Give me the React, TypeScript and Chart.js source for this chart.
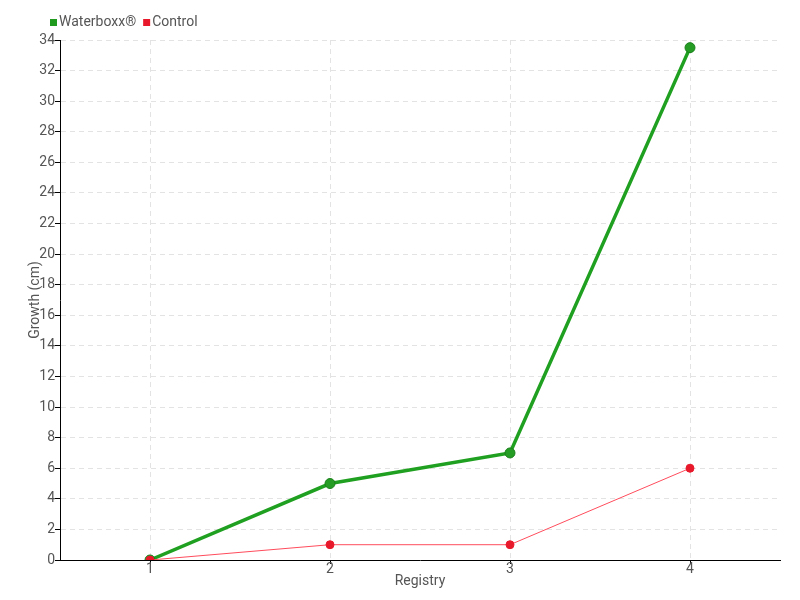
import React, { useEffect, useRef } from "react";
import { Chart, registerables } from "chart.js";

Chart.register(...registerables);

const categories = ["1", "2", "3", "4"];
const seriesNames = ["Waterboxx®", "Control"];
const waterboxx = [0, 5, 7, 33.5];
const control = [0, 1, 1, 6];
const FAMILY = "Roboto, 'Noto Sans', sans-serif";
const TEXT = "#555";
const GRID = "#e3e3e3";

const legendPlugin = {
  id: "customLegend",
  afterDraw(chart: any) {
    const ctx = chart.ctx;
    ctx.save();
    ctx.font = `14px ${FAMILY}`;
    ctx.textBaseline = "middle";
    ctx.textAlign = "left";
    let x = 50;
    const y = 22;
    chart.data.datasets.forEach((ds: any) => {
      ctx.fillStyle = ds.backgroundColor;
      ctx.fillRect(x, y - 3, 7, 7);
      x += 9;
      ctx.fillStyle = TEXT;
      ctx.fillText(ds.label, x, y);
      x += ctx.measureText(ds.label).width + 7;
    });
    ctx.restore();
  },
};

export default function App() {
  const ref = useRef<HTMLCanvasElement>(null);
  useEffect(() => {
    document.body.style.margin = "0";
    const font = { family: FAMILY, size: 14 };
    const chart = new Chart(ref.current!, {
      type: "line",
      data: {
        labels: categories,
        datasets: [
          {
            label: seriesNames[0],
            data: waterboxx,
            order: 2,
            borderColor: "#20a020",
            backgroundColor: "#1f9a1f",
            pointBackgroundColor: "#259d25",
            pointBorderColor: "#1a801a",
            pointBorderWidth: 1,
            borderWidth: 3.5,
            pointRadius: 5,
            tension: 0,
          },
          {
            label: seriesNames[1],
            data: control,
            order: 1,
            borderColor: "#ff4c5c",
            backgroundColor: "#e8192b",
            pointBackgroundColor: "#e8192b",
            pointBorderColor: "#e8192b",
            borderWidth: 1,
            pointRadius: 4,
            tension: 0,
          },
        ],
      },
      options: {
        animation: false,
        responsive: false,
        layout: { padding: { left: 26, right: 20, top: 40, bottom: 0 } },
        plugins: {
          legend: { display: false },
          tooltip: { enabled: false },
        },
        scales: {
          x: {
            offset: true,
            afterFit: (s: any) => {
              s.height = 40;
            },
            grid: {
              offset: false,
              color: GRID,
              tickColor: "#000",
              tickLength: 4,
            },
            border: { color: "#000", width: 1, dash: [5, 4] },
            ticks: { color: TEXT, font, padding: -3 },
            title: {
              display: true,
              text: "Registry",
              color: TEXT,
              font,
              padding: { top: 0, bottom: 10 },
            },
          },
          y: {
            min: 0,
            max: 34,
            afterFit: (s: any) => {
              s.width = 34;
            },
            ticks: { stepSize: 2, color: TEXT, font, padding: 0 },
            grid: {
              color: GRID,
              tickColor: "#000",
              tickLength: 5,
            },
            border: { color: "#000", width: 1, dash: [5, 4] },
            title: {
              display: true,
              text: "Growth (cm)",
              color: TEXT,
              font,
              padding: { top: 1, bottom: 0 },
            },
          },
        },
      },
      plugins: [legendPlugin],
    });
    return () => chart.destroy();
  }, []);
  return (
    <div style={{ width: 800, height: 600 }}>
      <canvas ref={ref} width={800} height={600} />
    </div>
  );
}
